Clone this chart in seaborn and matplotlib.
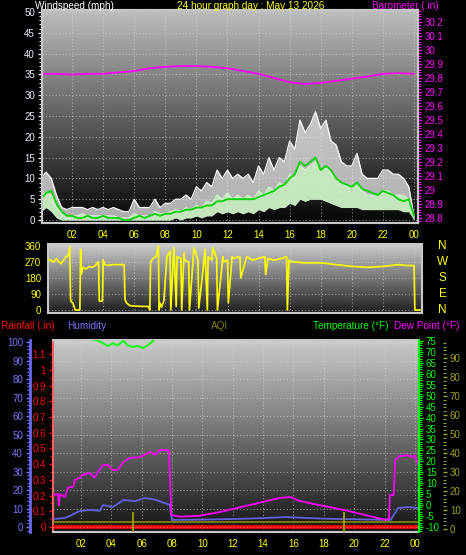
import numpy as np
import pandas as pd
import matplotlib
matplotlib.use("Agg")
import matplotlib.pyplot as plt
from matplotlib.ticker import MultipleLocator
import seaborn as sns

# ---- wind (20 minute samples, mph) ----
wind_hours = np.arange(73) / 3
gust = [10, 11.5, 10, 6, 3, 2.5,
        3, 3, 3, 2.5, 3, 2.5,
        3, 2.5, 3, 2.5, 2, 2,
        5, 3, 3, 3, 5, 3,
        4, 4, 5, 5, 6, 5,
        8, 7, 9, 8, 12, 10,
        12, 10, 11, 10, 11, 9,
        13, 11, 15, 12, 15, 14,
        19, 17, 24, 21, 23, 26,
        22, 24, 19, 18, 14, 13,
        13, 16, 11, 10, 10, 10,
        12, 12, 11, 11, 10, 8,
        1]
speed_hi = [6, 6.5, 6, 3, 1.5, 1,
            1, 1, 1.5, 1, 1, 1,
            1, 1, 1, 0.5, 0.5, 0.5,
            1.5, 1, 1, 1, 2, 1.5,
            1.5, 2, 2.5, 2, 3, 2.5,
            3.5, 3, 4.5, 4, 6, 5,
            6.5, 5, 6, 5, 6, 5,
            7, 6, 8, 7, 9, 8,
            11, 10, 13, 12, 13, 14,
            12, 13, 11, 10, 9, 8,
            8, 9, 7, 6, 6, 6,
            7, 7, 6, 6, 6, 5,
            0.5]
speed_lo = [2, 3, 2, 0.5, 0, 0,
            0, 0, 0, 0, 0, 0,
            0, 0, 0, 0, 0, 0,
            0, 0, 0, 0, 0, 0,
            0, 0, 0.5, 0, 0.5, 0.5,
            1, 0.5, 1, 1, 2, 1.5,
            2, 1.5, 2, 1.5, 2, 1.5,
            2.5, 2, 3, 2.5, 3, 3,
            4, 3.5, 5, 4.5, 5, 5,
            5, 4.5, 4, 3.5, 3, 3,
            3, 3, 2.5, 2.5, 2.5, 2.5,
            2.5, 2.5, 2.5, 2.5, 2, 2,
            0]
wind_avg = [5, 6.5, 7, 4, 2, 1,
            1, 0.5, 0.5, 1, 0.5, 0.5,
            1, 0.5, 0.5, 0.5, 0, 0,
            0.5, 1, 0.5, 1, 1.5, 1,
            1.5, 1.5, 2, 2, 2.5, 2.5,
            3, 3, 3.5, 3.5, 4.5, 4.5,
            5, 5, 5, 5, 5, 5,
            5.5, 6, 6.5, 7, 8, 8.5,
            10, 11, 14, 13, 14, 15,
            12, 13, 12, 10, 9, 8.5,
            8, 9, 7.5, 7, 6.5, 6,
            7, 6.5, 6, 5, 4.5, 5,
            1]

# ---- barometer (in) ----
baro_hours = [0, 1, 2, 3, 4, 5, 6, 7, 8, 9, 10, 11, 12, 13, 14, 15, 16, 17, 18, 19, 20, 21, 22, 23, 24]
baro = [29.83, 29.83, 29.825, 29.83, 29.83, 29.84, 29.85, 29.87, 29.88, 29.885, 29.885, 29.88, 29.87,
        29.85, 29.83, 29.80, 29.77, 29.757, 29.765, 29.78, 29.795, 29.81, 29.83, 29.835, 29.83]

# ---- wind direction (deg) ----
dir_hours = [0.45, 0.6, 0.8, 1.0, 1.1, 1.3, 1.45, 1.6, 1.75, 1.85,
             1.9, 1.95, 2.05, 2.2, 2.25, 2.5, 2.55, 2.6, 2.7, 2.9,
             3.1, 3.3, 3.5, 3.65, 3.7, 3.75, 3.95, 4.0, 4.1, 4.3,
             4.6, 5.0, 5.35, 5.4, 5.5, 5.7, 6.0, 6.5, 6.9, 7.0,
             7.05, 7.2, 7.4, 7.55, 7.6, 7.65, 7.75, 7.9, 8.1, 8.3,
             8.35, 8.5, 8.55, 8.7, 8.75, 9.0, 9.05, 9.2, 9.25, 9.5,
             9.55, 9.8, 9.85, 10.1, 10.15, 10.5, 10.55, 10.7, 10.75, 11.0,
             11.05, 11.3, 11.35, 11.7, 11.75, 12.0, 12.05, 12.3, 12.35, 12.8,
             12.85, 13.2, 13.25, 13.6, 14.0, 14.4, 14.45, 14.6, 15.0, 15.5,
             15.8, 15.85, 15.95, 16.0, 16.3, 17.0, 18.0, 19.0, 20.0, 21.0,
             22.0, 22.5, 23.0, 23.5, 24.0, 24.05, 24.4]
dir_deg = [285, 280, 270, 290, 275, 260, 280, 300, 305, 355,
           60, 45, 40, 0, 0, 0, 340, 200, 240, 230,
           245, 240, 250, 270, 270, 50, 50, 280, 255, 250,
           255, 255, 255, 60, 40, 25, 22, 20, 20, 0,
           270, 290, 300, 360, 0, 40, 15, 50, 300, 330,
           0, 280, 350, 20, 300, 290, 0, 320, 280, 270,
           0, 300, 350, 280, 10, 290, 340, 0, 300, 280,
           350, 290, 0, 300, 270, 280, 40, 300, 290, 300,
           180, 290, 300, 280, 290, 300, 200, 290, 280, 290,
           300, 0, 280, 275, 270, 265, 265, 255, 245, 240,
           245, 250, 255, 250, 250, 0, 0]

# ---- bottom panel ----
dew_hours = [0.16, 0.5, 0.55, 0.6, 0.95, 1.15, 1.5, 1.6, 1.9, 2.1, 2.6, 2.9, 3.1, 3.45, 3.8,
             4.1, 4.4, 4.8, 5.2, 5.9, 6.2, 6.55, 6.9, 7.2, 7.8, 7.95, 8.5, 9.8, 11.2, 13.1,
             15.1, 15.8, 16.4, 17.7, 19.3, 20.7, 22.1, 22.3, 22.35, 22.6, 22.7, 23.0, 23.5, 23.8,
             24.0, 24.2]
dew = [4.6, 5, 0, 5, 3.7, 8, 8.5, 11.5, 12.4, 13.8, 14.7, 12.5, 15, 18.3, 18.3,
       16, 16, 19.7, 21.5, 22, 23, 24.3, 23, 25.2, 25, -4.5, -5.3, -4.9, -3.1, 0,
       3.3, 3.7, 1.9, 0, -2.2, -4.5, -6.8, -6, 4.6, 4.6, 20.6, 22.4, 22.8, 22, 22.8, 18.5]

hum_hours = [0.16, 0.95, 1.4, 1.9, 2.6, 3.25, 3.45, 4.1, 4.8, 5.6, 6.2, 6.9, 7.5, 7.85,
             8.0, 10.0, 12.0, 14.0, 15.5, 16.5, 18.0, 20.0, 22.0, 22.4, 22.6, 22.9, 23.5, 24.2]
humidity = [4.3, 4.9, 6.5, 8.6, 9.2, 8.8, 11.9, 10.8, 14.6, 14, 15.7, 14.8, 13, 12,
            3.8, 4.0, 4.3, 4.8, 5.4, 5.0, 4.5, 4.2, 3.9, 3.8, 6.5, 10.3, 10.8, 10.3]

temp_hours = [0.16, 1.0, 2.0, 2.4, 3.0, 3.45, 3.8, 4.1, 4.4, 4.8, 5.1, 5.4, 5.75, 6.1,
              6.4, 6.75, 7.0, 8.0, 10.0, 12.0, 14.0, 16.0, 18.0, 20.0, 22.0, 24.2]
temp = [84, 81, 78, 76, 75.5, 74, 72.7, 74, 73, 75, 73, 72.3, 72.7, 71.8,
        73, 75, 77, 82, 88, 93, 96, 97, 95, 90, 86, 82]

rain_hours = [0.16, 24.2]
rain = [0, 0]

aqi_hours = [0.16, 24.2]
aqi = [3.7, 3.7]
aqi_spike_hours = [5.4, 19.3]
aqi_spike_top = 9

hour_ticks = [2, 4, 6, 8, 10, 12, 14, 16, 18, 20, 22, 24]
hour_labels = ["02", "04", "06", "08", "10", "12", "14", "16", "18", "20", "22", "00"]

W, H = 466, 555
sns.set_style("dark")
plt.rcParams["font.family"] = ["Liberation Sans", "DejaVu Sans"]
plt.rcParams["axes.unicode_minus"] = False
fig = plt.figure(figsize=(W / 100, H / 100), dpi=100, facecolor="black")


def box(x0, y0, x1, y1):
    # pixel box -> figure fraction
    return [x0 / W, 1 - y1 / H, (x1 - x0) / W, (y1 - y0) / H]


def shade(ax, top=0.78, bottom=0.04):
    grad = np.linspace(bottom, top, 256)[:, None]
    ax.imshow(grad, extent=[0, 1, 0, 1], transform=ax.transAxes, origin="lower",
              cmap="gray", vmin=0, vmax=1, aspect="auto", zorder=0)
    ax.set_facecolor("black")


def frame(ax):
    for s in ax.spines.values():
        s.set_color("#c8c8c8")
        s.set_linewidth(1.5)


def style_y(ax, color, size=7):
    ax.tick_params(axis="y", colors=color, labelsize=size, length=3, width=1, pad=2)
    ax.tick_params(axis="y", which="minor", colors=color, length=2, width=0.8)


grid_kw = dict(color="#d8d8d8", linestyle=(0, (1, 2)), linewidth=0.8, alpha=0.6)

# ================= wind panel =================
ax_w = fig.add_axes(box(42, 10, 418, 223))
shade(ax_w, top=0.74, bottom=0.02)
frame(ax_w)
ax_w.fill_between(wind_hours, speed_lo, gust, color="#f0f0f0", alpha=0.72, lw=0, zorder=2)
ax_w.fill_between(wind_hours, speed_lo, speed_hi, color="#c8f0c0", alpha=0.85, lw=0, zorder=3)
sns.lineplot(x=wind_hours, y=gust, ax=ax_w, color="white", lw=0.9, estimator=None, zorder=3)
sns.lineplot(x=wind_hours, y=speed_hi, ax=ax_w, color="#d8ffd0", lw=0.7, estimator=None, zorder=3)
sns.lineplot(x=wind_hours, y=wind_avg, ax=ax_w, color="#00d000", lw=1.3, estimator=None, zorder=4)
ax_w.set_xlim(0.07, 24.26)
ax_w.set_ylim(-0.72, 50.48)
ax_w.yaxis.set_major_locator(MultipleLocator(5))
ax_w.yaxis.set_minor_locator(MultipleLocator(1))
style_y(ax_w, "#e8f0ff")
ax_w.set_xticks(hour_ticks)
ax_w.set_xticklabels(hour_labels)
ax_w.xaxis.set_minor_locator(MultipleLocator(0.5))
ax_w.tick_params(axis="x", colors="#c8c8c8", labelcolor="#ffff00", labelsize=7, length=3, pad=2)
ax_w.tick_params(axis="x", which="minor", colors="#c8c8c8", length=2)
ax_w.grid(True, **grid_kw)
ax_w.set_xlabel("")
ax_w.set_ylabel("")

ax_b = ax_w.twinx()
sns.lineplot(x=baro_hours, y=baro, ax=ax_b, color="#ff00ff", lw=1.3, estimator=None)
ax_b.set_ylim(28.764, 30.286)
ax_b.yaxis.set_major_locator(MultipleLocator(0.1))
ax_b.yaxis.set_minor_locator(MultipleLocator(0.02))
ax_b.yaxis.set_major_formatter(plt.FuncFormatter(lambda v, p: f"{v:.1f}".rstrip("0").rstrip(".")))
style_y(ax_b, "#ff00ff")
ax_b.set_ylabel("")
frame(ax_b)
ax_b.grid(False)

# ================= direction panel =================
ax_d = fig.add_axes(box(48, 244, 422, 313))
shade(ax_d, top=0.8, bottom=0.12)
frame(ax_d)
sns.lineplot(x=dir_hours, y=dir_deg, ax=ax_d, color="#ffff00", lw=1.2, estimator=None, sort=False, zorder=3)
ax_d.set_xlim(0.45, 24.51)
ax_d.set_ylim(-17, 371)
ax_d.set_yticks([0, 90, 180, 270, 360])
ax_d.yaxis.set_minor_locator(MultipleLocator(18))
style_y(ax_d, "#ffff00")
ax_d.set_xticks(hour_ticks)
ax_d.tick_params(axis="x", labelbottom=False, length=0)
ax_d.grid(True, **grid_kw)
ax_d.set_xlabel("")
ax_d.set_ylabel("")
for lab, deg in zip(["N", "W", "S", "E", "N"], [360, 270, 180, 90, 0]):
    ax_d.text(1.055, (deg + 17) / 388, lab, transform=ax_d.transAxes, color="#ffff00",
              fontsize=8.5, ha="center", va="center")

# ================= bottom panel =================
ax_r = fig.add_axes(box(53, 340, 419, 532))
shade(ax_r, top=0.8, bottom=0.08)
frame(ax_r)
ax_r.spines["left"].set_color("#ff6060")
ax_r.spines["left"].set_linestyle((0, (2, 1)))
sns.lineplot(x=rain_hours, y=rain, ax=ax_r, color="#ff0000", lw=2.6, estimator=None, zorder=3)
ax_r.set_xlim(0.16, 24.27)
ax_r.set_ylim(-0.032, 1.191)
ax_r.yaxis.set_major_locator(MultipleLocator(0.1))
ax_r.yaxis.set_minor_locator(MultipleLocator(0.05))
ax_r.yaxis.set_major_formatter(plt.FuncFormatter(lambda v, p: f"{v:.1f}".rstrip("0").rstrip(".") if v > 0.01 else "0"))
style_y(ax_r, "#ff0000")
ax_r.set_xticks(hour_ticks)
ax_r.set_xticklabels(hour_labels)
ax_r.xaxis.set_minor_locator(MultipleLocator(0.5))
ax_r.tick_params(axis="x", colors="#c8c8c8", labelcolor="#ffff00", labelsize=7, length=3, pad=2)
ax_r.tick_params(axis="x", which="minor", colors="#c8c8c8", length=2)
ax_r.grid(True, axis="x", **grid_kw)
ax_r.set_xlabel("")
ax_r.set_ylabel("")

# humidity, outer left axis
ax_h = ax_r.twinx()
ax_h.yaxis.set_ticks_position("left")
ax_h.yaxis.set_label_position("left")
ax_h.spines["left"].set_position(("axes", -23 / 366))
ax_h.spines["left"].set_visible(True)
ax_h.spines["left"].set_color("#6868f0")
ax_h.spines["left"].set_linewidth(2)
for s in ["right", "top", "bottom"]:
    ax_h.spines[s].set_visible(False)
sns.lineplot(x=hum_hours, y=humidity, ax=ax_h, color="#6060e0", lw=1.3, estimator=None)
ax_h.set_ylim(-2.7, 101.1)
ax_h.yaxis.set_major_locator(MultipleLocator(10))
ax_h.yaxis.set_minor_locator(MultipleLocator(2))
style_y(ax_h, "#7878ff")
ax_h.grid(True, axis="y", **grid_kw)
ax_h.set_ylabel("")

# temperature / dew point, right axis
ax_t = ax_r.twinx()
for s in ["left", "top", "bottom"]:
    ax_t.spines[s].set_visible(False)
ax_t.spines["right"].set_color("#00ff00")
ax_t.spines["right"].set_linewidth(1.5)
sns.lineplot(x=dew_hours, y=dew, ax=ax_t, color="#ff00ff", lw=1.3, estimator=None)
sns.lineplot(x=temp_hours, y=temp, ax=ax_t, color="#00ff00", lw=1.3, estimator=None)
ax_t.set_ylim(-12.3, 75.46)
ax_t.yaxis.set_major_locator(MultipleLocator(5))
ax_t.yaxis.set_minor_locator(MultipleLocator(1))
style_y(ax_t, "#00ff00")
ax_t.set_ylabel("")

# AQI, outer right axis
ax_a = ax_r.twinx()
ax_a.spines["right"].set_position(("axes", 1 + 24 / 366))
for s in ["left", "top", "bottom", "right"]:
    ax_a.spines[s].set_visible(False)
sns.lineplot(x=aqi_hours, y=aqi, ax=ax_a, color="#808000", lw=1.3, estimator=None)
ax_a.vlines(aqi_spike_hours, -2, aqi_spike_top, color="#a0a000", lw=1.3)
ax_a.set_ylim(-1.6, 99.5)
ax_a.yaxis.set_major_locator(MultipleLocator(10))
ax_a.yaxis.set_minor_locator(MultipleLocator(2))
style_y(ax_a, "#a0a020")
ax_a.set_ylabel("")

# ================= titles =================
tk = dict(fontsize=7.2, va="center")
fig.text(35 / W, 1 - 6 / H, "Windspeed (mph)", color="white", ha="left", **tk)
fig.text(251 / W, 1 - 6 / H, "24 hour graph day : May 13 2026", color="#ffff00", ha="center", **tk)
fig.text(372 / W, 1 - 6 / H, "Barometer (.in)", color="#ff00ff", ha="left", **tk)
fig.text(1 / W, 1 - 326 / H, "Rainfall (.in)", color="#ff0000", ha="left", **tk)
fig.text(67 / W, 1 - 326 / H, "Humidity", color="#7878ff", ha="left", **tk)
fig.text(220 / W, 1 - 326 / H, "AQI", color="#808000", ha="center", **tk)
fig.text(313 / W, 1 - 326 / H, "Temperature (°F)", color="#00ff00", ha="left", **tk)
fig.text(394 / W, 1 - 326 / H, "Dew Point (°F)", color="#ff00ff", ha="left", **tk)

fig.savefig("out.png", dpi=100, facecolor="black")
